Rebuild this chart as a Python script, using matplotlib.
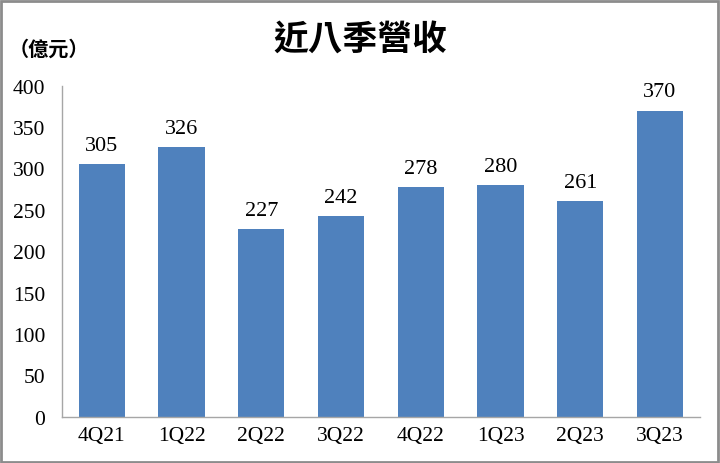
import matplotlib.pyplot as plt
from matplotlib.patches import Rectangle

quarters = ["4Q21", "1Q22", "2Q22", "3Q22", "4Q22", "1Q23", "2Q23", "3Q23"]
revenue = [305, 326, 227, 242, 278, 280, 261, 370]
yticks = [0, 50, 100, 150, 200, 250, 300, 350, 400]

plt.rcParams['font.family'] = ['Liberation Serif', 'Noto Sans CJK TC']

fig = plt.figure(figsize=(7.2, 4.64), dpi=100)
ax = fig.add_axes([0.086, 0.100, 0.886, 0.713])

ax.bar(range(len(quarters)), revenue, width=0.58, color="#4F81BD")
for i, v in enumerate(revenue):
    ax.text(i, v + 11, str(v), ha="center", va="bottom", fontsize=16)

ax.set_xlim(-0.5, len(quarters) - 0.5)
ax.set_ylim(0, 400)
ax.set_yticks(yticks)
ax.set_xticks(range(len(quarters)))
ax.set_xticklabels(quarters)
ax.tick_params(axis="both", length=0, labelsize=15.5)
ax.tick_params(axis="x", pad=7)
ax.tick_params(axis="y", pad=12)
for s in ["top", "right"]:
    ax.spines[s].set_visible(False)
for s in ["left", "bottom"]:
    ax.spines[s].set_color("#A6A6A6")
    ax.spines[s].set_linewidth(1)

fig.text(0.5, 0.913, "近八季營收", ha="center", va="center", fontsize=25,
         fontweight="bold", family=["Noto Sans CJK TC"])
fig.text(0.012, 0.893, "（億元）", ha="left", va="center", fontsize=14.5,
         fontweight="bold", family=["Noto Sans CJK TC"])

fig.patches.append(Rectangle((0.002, 0.003), 0.995, 0.993, transform=fig.transFigure,
                             fill=False, edgecolor="#8C8C8C", linewidth=2))

fig.savefig("out.png", dpi=100)
